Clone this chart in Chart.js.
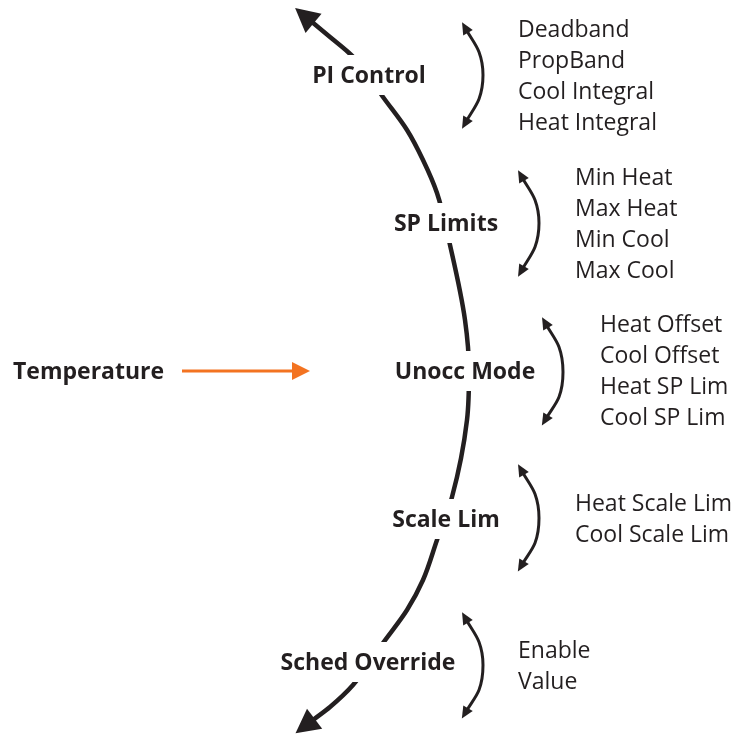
<!DOCTYPE html>
<html>
<head>
<meta charset="utf-8">
<script src="https://cdn.jsdelivr.net/npm/chart.js@4"></script>
<style>
html,body{margin:0;padding:0;background:#fff;}
#wrap{width:736px;height:736px;}
</style>
</head>
<body>
<div id="wrap"><canvas id="c" width="736" height="736"></canvas></div>
<script>
// ---- data (diagram coordinates, 0..736) ----
const mainArcX = [312, 330, 348, 358, 383, 407, 423, 437, 450, 465, 469, 467, 452, 437, 423, 407, 383, 353, 330, 313];
const mainArcY = [22, 37, 52, 62, 97, 130, 160, 193, 245, 320, 371, 420, 497, 540, 580, 610, 643, 685, 707, 720];

const stageLabels = ["PI Control", "SP Limits", "Unocc Mode", "Scale Lim", "Sched Override"];
const stageX = [369, 446, 465, 446, 368];
const stageY = [75, 223, 371, 519, 662];

const arcPIx = [467, 479, 483, 479, 467];
const arcPIy = [31, 52, 75, 99, 120];
const arcSPx = [523, 535, 539, 535, 523];
const arcSPy = [179, 200, 223, 247, 268];
const arcUNx = [547, 559, 563, 559, 547];
const arcUNy = [326, 347, 372, 397, 417];
const arcSCx = [523, 535, 539, 535, 523];
const arcSCy = [473, 494, 518, 543, 563];
const arcSOx = [467, 479, 483, 479, 467];
const arcSOy = [621, 642, 665, 690, 710];

const paramsPI = ["Deadband", "PropBand", "Cool Integral", "Heat Integral"];
const paramsSP = ["Min Heat", "Max Heat", "Min Cool", "Max Cool"];
const paramsUN = ["Heat Offset", "Cool Offset", "Heat SP Lim", "Cool SP Lim"];
const paramsSC = ["Heat Scale Lim", "Cool Scale Lim"];
const paramsSO = ["Enable", "Value"];
const paramListX = [518, 575, 600, 575, 518];
const paramListY = [29, 177, 324, 503, 650];
const paramLists = [paramsPI, paramsSP, paramsUN, paramsSC, paramsSO];

const inputLabel = "Temperature";
const inputLabelX = 13;
const inputLabelY = 371;
const inputArrowX = [182, 294];
const inputArrowY = [371, 371];

const INK = '#231f20';
const ORANGE = '#f37321';

function pts(xs, ys) { return xs.map((x, i) => ({ x: x, y: ys[i] })); }

function arcDs(xs, ys) {
  return {
    data: pts(xs, ys), showLine: true, borderColor: INK, borderWidth: 3,
    pointRadius: 0, cubicInterpolationMode: 'monotone', indexAxis: 'y', fill: false,
    arrowStart: { len: 10, half: 5.5, color: INK }, arrowEnd: { len: 10, half: 5.5, color: INK }
  };
}

const datasets = [
  {
    data: pts(mainArcX, mainArcY), showLine: true, borderColor: INK, borderWidth: 4.5,
    pointRadius: 0, cubicInterpolationMode: 'monotone', indexAxis: 'y', fill: false,
    arrowStart: { len: 22, half: 12.5, color: INK }, arrowEnd: { len: 22, half: 12.5, color: INK }
  },
  arcDs(arcPIx, arcPIy), arcDs(arcSPx, arcSPy), arcDs(arcUNx, arcUNy), arcDs(arcSCx, arcSCy), arcDs(arcSOx, arcSOy),
  {
    data: pts(inputArrowX, inputArrowY), showLine: true, borderColor: ORANGE, borderWidth: 3.2,
    pointRadius: 0, tension: 0, fill: false,
    arrowEnd: { len: 16, half: 9, color: ORANGE }
  }
];

function drawHead(ctx, baseX, baseY, dx, dy, a) {
  const L = Math.hypot(dx, dy) || 1;
  const ux = dx / L, uy = dy / L;
  const tx = baseX + ux * a.len, ty = baseY + uy * a.len;
  const bx = baseX - ux * 2, by = baseY - uy * 2;
  ctx.beginPath();
  ctx.moveTo(tx, ty);
  ctx.lineTo(bx - uy * a.half, by + ux * a.half);
  ctx.lineTo(bx + uy * a.half, by - ux * a.half);
  ctx.closePath();
  ctx.fillStyle = a.color;
  ctx.fill();
}

const arrowPlugin = {
  id: 'arrows',
  afterDatasetsDraw(chart) {
    const ctx = chart.ctx;
    ctx.save();
    chart.data.datasets.forEach((ds, i) => {
      const meta = chart.getDatasetMeta(i);
      const p = meta.data;
      if (!p || p.length < 2) return;
      if (ds.arrowEnd) {
        const a = p[p.length - 1], b = p[p.length - 2];
        let cx = a.cp1x, cy = a.cp1y;
        if (cx === undefined || (Math.abs(cx - a.x) < 0.5 && Math.abs(cy - a.y) < 0.5)) { cx = b.x; cy = b.y; }
        drawHead(ctx, a.x, a.y, a.x - cx, a.y - cy, ds.arrowEnd);
      }
      if (ds.arrowStart) {
        const a = p[0], b = p[1];
        let cx = a.cp2x, cy = a.cp2y;
        if (cx === undefined || (Math.abs(cx - a.x) < 0.5 && Math.abs(cy - a.y) < 0.5)) { cx = b.x; cy = b.y; }
        drawHead(ctx, a.x, a.y, a.x - cx, a.y - cy, ds.arrowStart);
      }
    });
    ctx.restore();
  }
};

const textPlugin = {
  id: 'texts',
  afterDraw(chart) {
    const ctx = chart.ctx;
    const xs = chart.scales.x, ys = chart.scales.y;
    ctx.save();
    ctx.textBaseline = 'middle';
    ctx.font = 'bold 23px "Open Sans", sans-serif';
    ctx.textAlign = 'center';
    stageLabels.forEach((t, i) => {
      const px = xs.getPixelForValue(stageX[i]), py = ys.getPixelForValue(stageY[i]);
      const w = ctx.measureText(t).width;
      ctx.fillStyle = '#fff';
      ctx.fillRect(px - w / 2 - 4, py - 20, w + 8, 40);
      ctx.fillStyle = INK;
      ctx.fillText(t, px, py + 1.5);
    });
    ctx.textAlign = 'left';
    ctx.fillText(inputLabel, xs.getPixelForValue(inputLabelX), ys.getPixelForValue(inputLabelY) + 1.5);
    ctx.font = '23px "Open Sans", sans-serif';
    paramLists.forEach((list, i) => {
      list.forEach((t, j) => {
        ctx.fillText(t, xs.getPixelForValue(paramListX[i]), ys.getPixelForValue(paramListY[i] + j * 31) + 1.5);
      });
    });
    ctx.restore();
  }
};

new Chart(document.getElementById('c'), {
  type: 'scatter',
  data: { datasets: datasets },
  options: {
    responsive: false,
    animation: false,
    layout: { padding: 0 },
    plugins: { legend: { display: false }, tooltip: { enabled: false } },
    elements: { line: { borderCapStyle: 'butt', borderJoinStyle: 'round' } },
    scales: {
      x: { type: 'linear', min: 0, max: 736, display: false },
      y: { type: 'linear', min: 0, max: 736, reverse: true, display: false }
    }
  },
  plugins: [arrowPlugin, textPlugin]
});
</script>
</body>
</html>
